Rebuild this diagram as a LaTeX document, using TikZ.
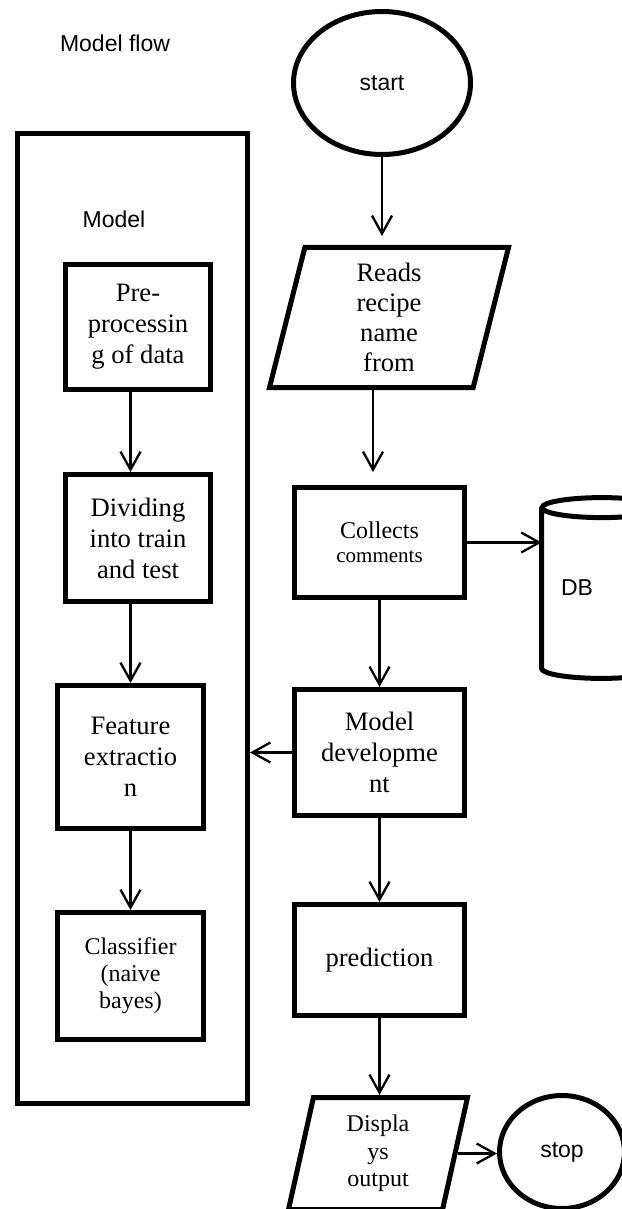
\documentclass[tikz,border=0pt]{standalone}
\usepackage{fontspec}
\setmainfont{Liberation Serif}
\newfontfamily\flowsans{Liberation Sans}
\usetikzlibrary{arrows.meta,shapes.geometric}

\begin{document}
\begin{tikzpicture}[x=0.5pt,y=0.5pt,
  box/.style={draw,line width=2.5pt,rectangle,inner sep=0pt,align=center,font=\fontsize{13.3}{15.5}\selectfont},
  io/.style={draw,line width=2.5pt,trapezium,trapezium left angle=72,trapezium right angle=108,trapezium stretches body=true,inner sep=0pt,align=center},
  term/.style={draw,line width=2.5pt,ellipse,inner sep=0pt,font=\flowsans\fontsize{11.5}{13}\selectfont},
  titletext/.style={font=\flowsans\fontsize{11.5}{13}\selectfont},
  flow/.style={-{Straight Barb[length=9pt,width=10pt]},line width=1.15pt}]
  \useasboundingbox (0,0) rectangle (621,-1209);
  \node[titletext] (flowtitle) at (115,-43) {Model flow};
  \node[box,minimum width=115pt,minimum height=485pt] (modelbox) at (132.5,-618.5) {};
  \node[titletext] (modeltitle) at (114,-219) {Model};
  \node[box,minimum width=72.5pt,minimum height=62.5pt] (pre) at (138,-327) {Pre-\\processin\\g of data};
  \node[box,minimum width=72.5pt,minimum height=63.5pt] (divide) at (138,-538) {Dividing\\into train\\and test};
  \node[box,minimum width=73pt,minimum height=71.5pt] (feature) at (130.5,-757) {Feature\\extractio\\n};
  \node[box,minimum width=73pt,minimum height=63.5pt,font=\fontsize{12}{13.5}\selectfont] (classifier) at (130.5,-976) {Classifier\\(naive\\bayes)};
  \node[term,minimum width=88.5pt,minimum height=71.5pt] (start) at (382,-83) {start};
  \node[io,minimum width=119.5pt,minimum height=70pt,font=\fontsize{13.3}{15}\selectfont] (reads) at (389,-317.5) {Reads\\recipe\\name\\from};
  \node[box,minimum width=85pt,minimum height=55pt,font=\fontsize{12}{12}\selectfont] (collects) at (379.5,-542.5) {Collects\\{\fontsize{10.5}{12}\selectfont comments}};
  \node[box,minimum width=85pt,minimum height=63pt] (modeldev) at (379.5,-752.5) {Model\\developme\\nt};
  \node[box,minimum width=85pt,minimum height=55.5pt] (prediction) at (379.5,-960) {prediction};
  \node[io,minimum width=89.5pt,minimum height=56pt,font=\fontsize{12}{13.75}\selectfont] (display) at (378,-1153.5) {Displa\\ys\\output};
  \node[term,minimum width=62.5pt,minimum height=56.5pt] (stop) at (562,-1152) {stop};
  \node[titletext,inner sep=0pt,minimum width=60pt,minimum height=80pt] (db) at (602,-588) {DB\hspace*{25pt}};
  \draw[line width=2.5pt] (db.north west) -- (db.south west) arc[start angle=180,end angle=360,x radius=30pt,y radius=5pt] -- (db.north east);
  \draw[line width=2.5pt] (db.north) ellipse[x radius=30pt,y radius=5pt];
  \draw[flow,shorten >=4.5pt] (start.south) -- (start.south |- reads.north);
  \draw[flow,shorten >=6.5pt] ([xshift=-8pt]reads.south) -- ([xshift=-8pt]reads.south |- collects.north);
  \draw[flow] (collects.east) -- (collects.east -| db.west);
  \draw[flow] (collects.south) -- (modeldev.north);
  \draw[flow] (modeldev.west) -- (modeldev.west -| modelbox.east);
  \draw[flow] (modeldev.south) -- (prediction.north);
  \draw[flow] (prediction.south) -- (prediction.south |- display.north);
  \draw[flow] (display.east) -- (display.east -| stop.west);
  \draw[flow] (pre.south -| feature) -- (divide.north -| feature);
  \draw[flow] (divide.south -| feature) -- (feature.north);
  \draw[flow] (feature.south) -- (classifier.north);
\end{tikzpicture}
\end{document}
